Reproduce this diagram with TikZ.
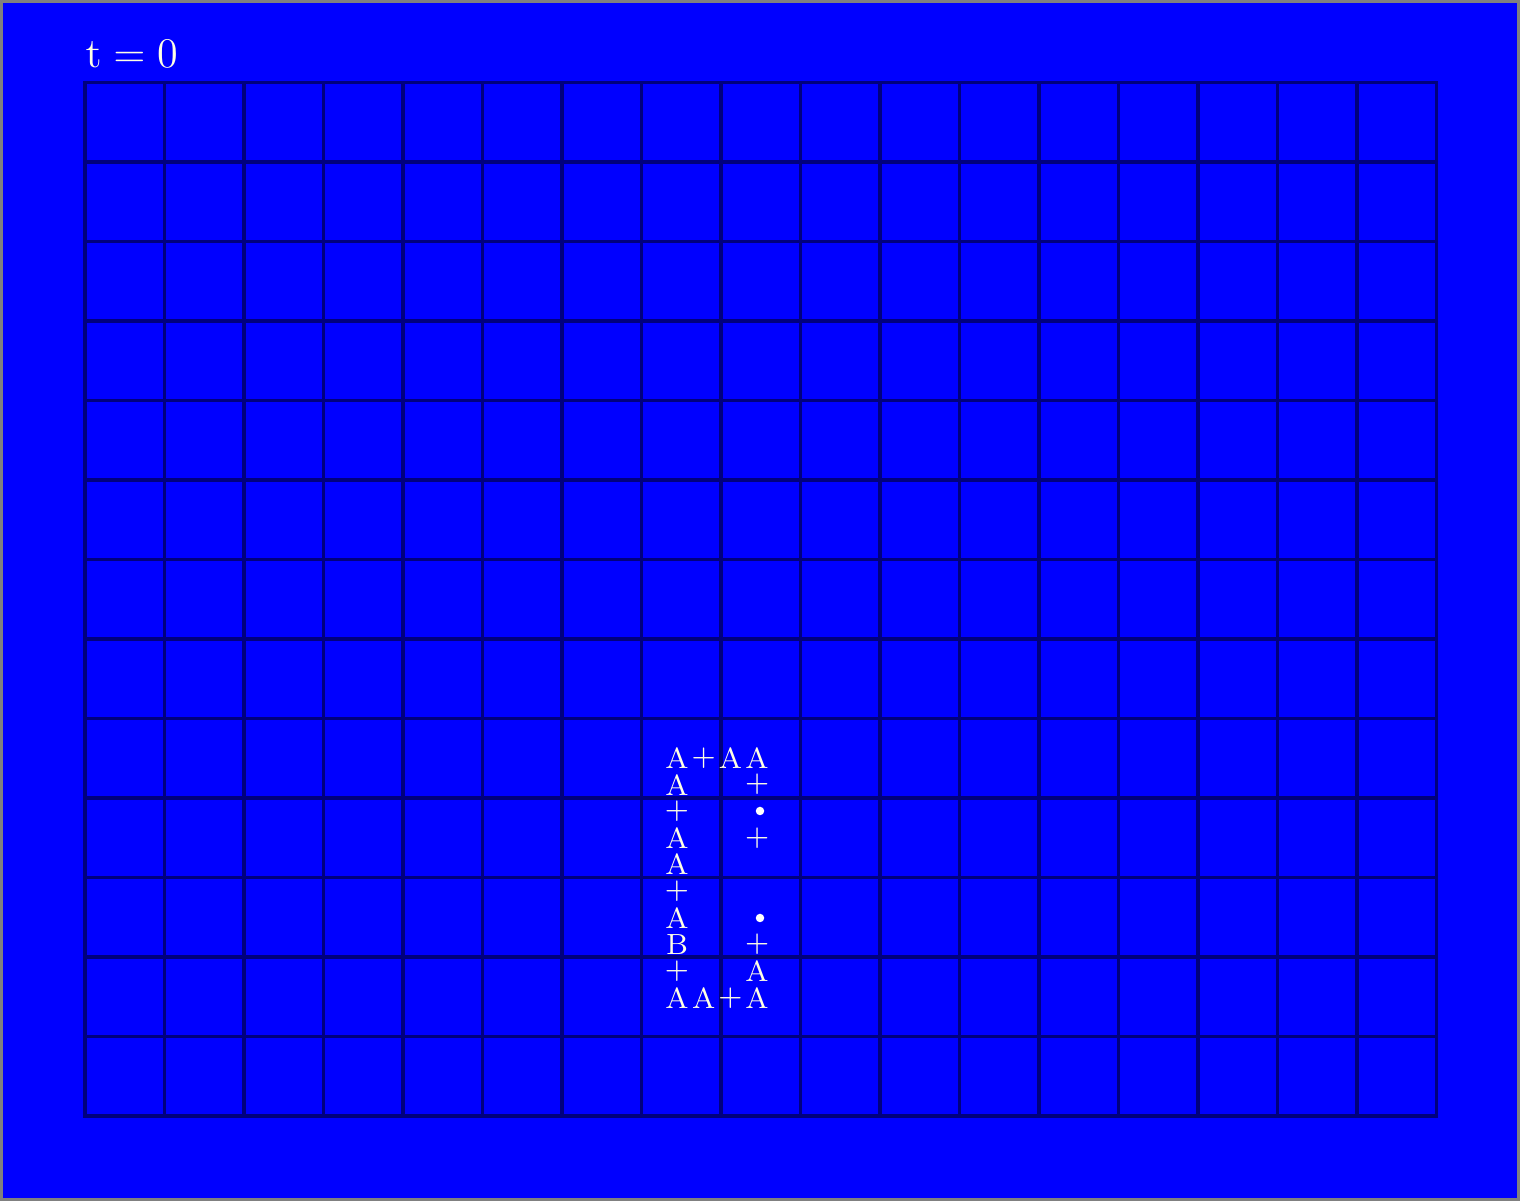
\documentclass[tikz,border=0pt]{standalone}
\usetikzlibrary{positioning}
\definecolor{bgblue}{RGB}{0,0,255}
\definecolor{gridnavy}{RGB}{0,0,125}
\definecolor{glyph}{RGB}{255,255,228}

\begin{document}
\begin{tikzpicture}[
  cellline/.style={draw=gridnavy, line width=0.9pt, line cap=rect},
  glyphs/.style={text=glyph, font=\fontsize{8.3}{10}\selectfont, inner sep=0pt},
  dotmark/.style={circle, fill=white, inner sep=0pt, minimum size=0.085cm}]

% background and frame
\fill[bgblue] (0,0) rectangle (15.2,12.01);
\draw[gray, line width=0.03cm] (0.015,0.015) rectangle (15.185,11.995);
\useasboundingbox (0,0) rectangle (15.2,12.01);

% 17 x 13 cells
\foreach \i in {0,...,17}
  \draw[cellline] (0.85+\i*0.795,0.85) -- (0.85+\i*0.795,11.185);
\foreach \j in {0,...,13}
  \draw[cellline] (0.85,0.85+\j*0.795) -- (14.365,0.85+\j*0.795);

% time stamp
\node[text=glyph, font=\large, inner sep=0pt, anchor=base west] (time) at (0.85,11.33) {$\mathrm{t} = 0$};

% letters on the fine raster
\foreach \r/\c/\t in {0/0/A, 0/1/+, 0/2/A, 0/3/A,
                      1/0/A, 1/3/+,
                      2/0/+,
                      3/0/A, 3/3/+,
                      4/0/A,
                      5/0/+,
                      6/0/A,
                      7/0/B, 7/3/+,
                      8/0/+, 8/3/A,
                      9/0/A, 9/1/A, 9/2/+, 9/3/A}
  \node[glyphs] (g\r-\c) at (6.77+\c*0.267,4.43-\r*0.2665) {\t};

\node[dotmark] (dot2) at (7.60,3.90) {};
\node[dotmark] (dot6) at (7.60,2.83) {};
\end{tikzpicture}
\end{document}
